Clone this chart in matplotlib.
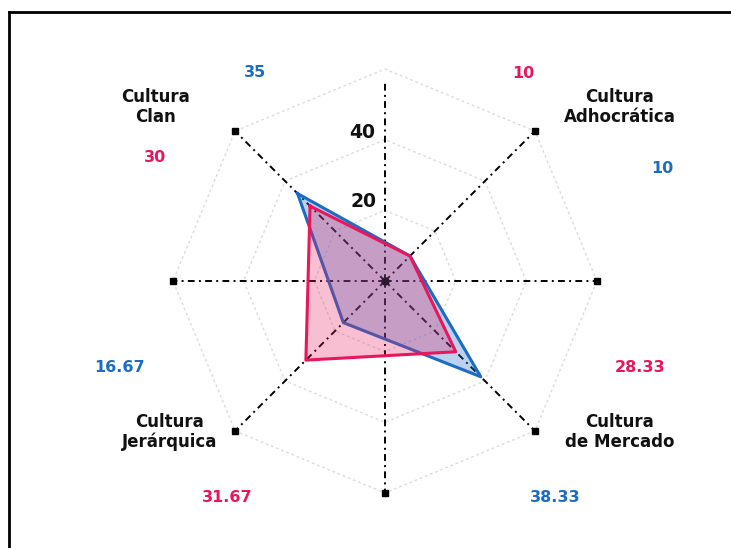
import numpy as np
import matplotlib.pyplot as plt
from matplotlib.lines import Line2D

# data
categorias = ['Cultura\nClan', 'Cultura\nAdhocrática', 'Cultura\nde Mercado', 'Cultura\nJerárquica']
angulos_deg = [135, 45, 315, 225]
serie_azul = [35, 10, 38.33, 16.67]
serie_rosa = [30, 10, 28.33, 31.67]
anillos = [20, 40, 60]

AZUL = '#1d6cc4'
ROSA = '#e8175d'

W, H = 731, 548
fig = plt.figure(figsize=(W / 100, H / 100), dpi=100)

cx, cy, R = 385, 281, 212
ax = fig.add_axes([(cx - R) / W, (H - cy - R) / H, 2 * R / W, 2 * R / H], projection='polar')
ax.set_ylim(0, 60)
ax.grid(False)
ax.set_xticks([])
ax.set_yticks([])
ax.spines['polar'].set_visible(False)
ax.patch.set_alpha(0)

# octagon rings
th8 = np.deg2rad(np.arange(0, 361, 45))
for r in anillos:
    ax.plot(th8, [r] * len(th8), color='#dcdcdc', lw=1, ls=(0, (2, 2)), zorder=1, clip_on=False)

# spokes
dashdot = (0, (3.5, 2.2, 1, 2.2))
for a in range(0, 360, 45):
    t = np.deg2rad(a)
    if a == 90:
        ax.plot([t, t], [0, 56], color='black', lw=1.4, ls=dashdot, zorder=2)
    else:
        ax.plot([t, t], [0, 60], color='black', lw=1.4, ls=dashdot, zorder=2, clip_on=False)
        ax.plot([t], [60], marker='s', ms=4, color='black', zorder=2, clip_on=False)

theta = np.deg2rad(angulos_deg + angulos_deg[:1])
azul = serie_azul + serie_azul[:1]
rosa = serie_rosa + serie_rosa[:1]

ax.fill(theta, azul, color=AZUL, alpha=0.3, lw=0, zorder=3)
ax.plot(theta, azul, color=AZUL, lw=2.2, zorder=3)
ax.fill(theta, rosa, color=ROSA, alpha=0.28, lw=0, zorder=4)
ax.plot(theta, rosa, color=ROSA, lw=2.2, zorder=5)
ax.plot([0], [0], marker='o', ms=5, color='#2a1a30', zorder=6)


def px(x, y):
    return x / W, 1 - y / H


# tick labels
fig.text(*px(362, 132), '40', ha='center', va='center', fontsize=13.5,
         fontweight='bold', color='#111111')
fig.text(*px(363, 202), '20', ha='center', va='center', fontsize=13.5,
         fontweight='bold', color='#111111')

# category labels
pos_cat = [(155, 107), (620, 107), (620, 432), (170, 432)]
for lab, (x, y) in zip(categorias, pos_cat):
    fig.text(*px(x, y), lab, ha='center', va='center', fontsize=12,
             fontweight='bold', color='#111111', linespacing=1.15)

# value labels
pos_azul = [(255, 72), (662, 168), (555, 498), (120, 368)]
pos_rosa = [(155, 157), (523, 73), (640, 368), (227, 498)]
for v, (x, y) in zip(serie_azul, pos_azul):
    fig.text(*px(x, y), f'{v:g}', ha='center', va='center', fontsize=11.5,
             fontweight='bold', color=AZUL)
for v, (x, y) in zip(serie_rosa, pos_rosa):
    fig.text(*px(x, y), f'{v:g}', ha='center', va='center', fontsize=11.5,
             fontweight='bold', color=ROSA)

# frame (left and top edges)
fig.add_artist(Line2D([8.5 / W, 8.5 / W], [0, 1 - 12 / H], color='black', lw=2, transform=fig.transFigure))
fig.add_artist(Line2D([8.5 / W, 1], [1 - 12 / H, 1 - 12 / H], color='black', lw=2, transform=fig.transFigure))

fig.savefig('out.png', dpi=100)
